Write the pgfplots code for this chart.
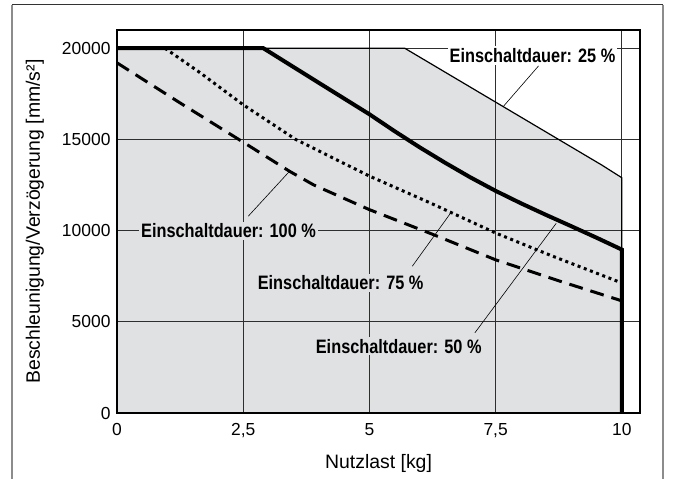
\documentclass[border=0pt]{standalone}
\usepackage{pgfplots}
\pgfplotsset{compat=1.18}
\usepackage{fontspec}
\setmainfont{Liberation Sans}
\newfontfamily\condfont[FakeStretch=0.84]{Liberation Sans}
\definecolor{fillgray}{RGB}{224,225,227}
\newcommand{\lbl}{\condfont\bfseries\fontsize{19.5}{22}\selectfont}

\begin{document}
\begin{tikzpicture}
% outer frame
\draw[line width=1.3bp, black!45] (12bp,-480bp) -- (12bp,-4.5bp);
\draw[line width=1bp, black!80] (12bp,-4.5bp) -- (663bp,-4.5bp);
\draw[line width=1.3bp, black!45] (663bp,-4.5bp) -- (663bp,-480bp);

\begin{axis}[
    at={(117bp,-413bp)}, anchor=south west,
    width=523bp, height=383bp, scale only axis,
    set layers,
    xmin=0, xmax=10.36,
    ymin=0, ymax=21000,
    xtick={0,2.5,5,7.5,10},
    xticklabels={0,{2,5},5,{7,5},10},
    ytick={0,5000,10000,15000,20000},
    yticklabels={0,5000,10000,15000,20000},
    scaled y ticks=false,
    major tick length=0pt,
    grid=major,
    grid style={line width=1bp, black!82},
    axis line style={line width=2.2bp},
    /pgf/number format/assume math mode=true,
    ticklabel style={font=\fontsize{17.5}{19}\selectfont},
    xticklabel style={yshift=-7bp},
    yticklabel style={xshift=-3bp},
    label style={font=\fontsize{19.5}{22}\selectfont},
    xlabel={Nutzlast [kg]},
    ylabel={Beschleunigung/Verzögerung [mm/s²]},
    xlabel style={at={(axis description cs:0.5,-0.133)}, anchor=center},
    ylabel style={at={(axis description cs:-0.157,0.5)}, anchor=center},
]

% shaded envelope (Einschaltdauer 25 %)
\addplot[fill=fillgray, draw=none, on layer=axis background]
    coordinates {(0,0)(0,20000)(5.7,20000)(9.6,13600)(10,12900)(10,0)(0,0)};

% 25 %
\addplot[black, line width=1.2bp]
    coordinates {(0,20000)(5.7,20000)(9.6,13600)(10,12900)(10,0)};

% 50 %
\addplot[black, line width=4bp]
    coordinates {(0,20000)(2.9,20000)(4,18100)(5,16380)(5.5,15450)(6,14560)
                 (6.5,13720)(7,12920)(7.5,12180)(8,11500)(8.5,10860)
                 (9,10240)(9.5,9610)(10,8960)(10,0)};

% 75 %
\addplot[black, line width=3bp, dash pattern=on 3bp off 3.6bp]
    coordinates {(0.95,20000)(1.65,18650)(2.5,16900)(3.54,15000)(5,12990)
                 (6.18,11550)(7.5,9870)(8.61,8620)(10,7130)};

% 100 %
\addplot[black, line width=3bp, dash pattern=on 14bp off 8bp]
    coordinates {(0,19200)(1.25,17000)(2.5,14850)(3.42,13250)(3.9,12500)
                 (5,11150)(6.25,9800)(7.5,8400)(8.75,7250)(10,6150)};

% leaders
\draw[line width=0.6bp] (axis cs:8.35,19030) -- (axis cs:7.65,16800);
\draw[line width=0.6bp] (axis cs:2.6,10790) -- (axis cs:3.42,13260);
\draw[line width=0.6bp] (axis cs:5.85,8050) -- (axis cs:6.61,10970);
\draw[line width=0.6bp] (axis cs:7.09,4400) -- (axis cs:8.7,10400);

% labels
\node[fill=white, inner sep=2bp, anchor=base] at (axis cs:8.23,19215) {\lbl Einschaltdauer: 25 \%};
\node[fill=fillgray, inner sep=2bp, anchor=base] at (axis cs:2.21,9600) {\lbl Einschaltdauer: 100 \%};
\node[fill=fillgray, inner sep=2bp, anchor=base] at (axis cs:4.43,6760) {\lbl Einschaltdauer: 75 \%};
\node[fill=fillgray, inner sep=2bp, anchor=base] at (axis cs:5.58,3280) {\lbl Einschaltdauer: 50 \%};
\end{axis}

\pgfresetboundingbox
\path[use as bounding box] (0bp,0bp) rectangle (675bp,-479bp);
\end{tikzpicture}
\end{document}
